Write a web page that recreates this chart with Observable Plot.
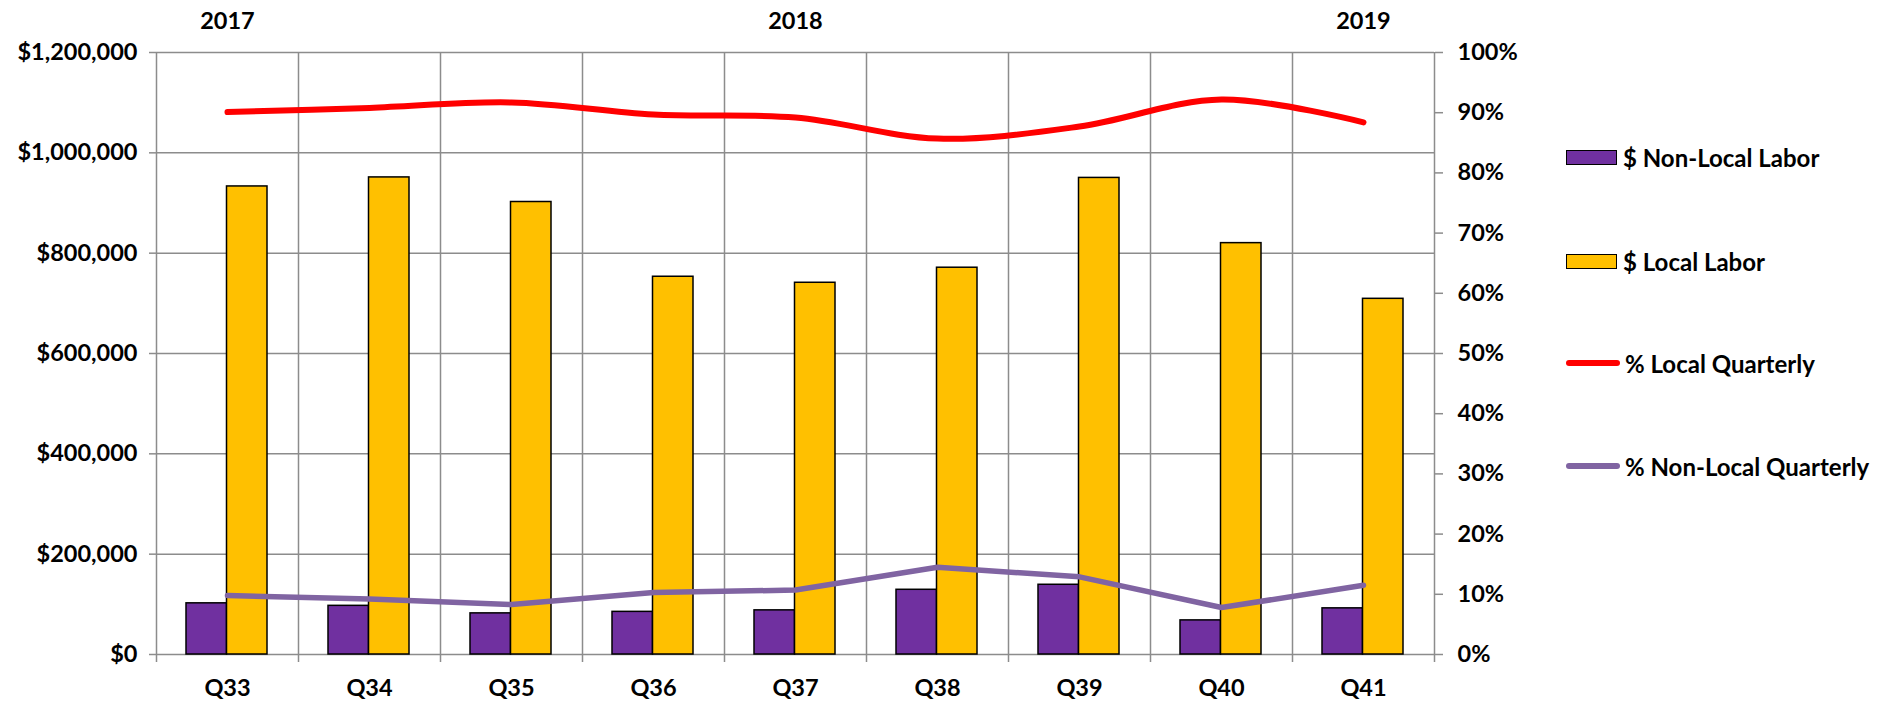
<!DOCTYPE html>
<html>
<head>
<meta charset="utf-8">
<script src="https://cdn.jsdelivr.net/npm/d3@7"></script>
<script src="https://cdn.jsdelivr.net/npm/@observablehq/plot@0.6"></script>
<style>
  html, body { margin: 0; padding: 0; background: #fff; }
  #wrap { position: relative; width: 1879px; height: 704px; font-family: Lato, "Open Sans", sans-serif; font-weight: 700; }
  #wrap > svg { position: absolute; left: 0; top: 0; }
  .leg { position: absolute; left: 1566px; height: 28px; display: flex; align-items: center; font-size: 24px; color: #000; white-space: nowrap; }
  .sw { width: 51px; height: 15px; border: 1.5px solid #000; margin-right: 6px; box-sizing: border-box; }
  .ln { width: 54px; border-radius: 3px; margin-right: 5px; }
</style>
</head>
<body>
<div id="wrap"></div>
<script>
// ---- data ----
const quarters = ["Q33", "Q34", "Q35", "Q36", "Q37", "Q38", "Q39", "Q40", "Q41"];
const nonLocalLabor = [102000, 97000, 82000, 85000, 88000, 129000, 139000, 68000, 92000];
const localLabor = [933000, 951000, 902000, 753000, 741000, 771000, 950000, 820000, 709000];
const pctLocal = [0.901, 0.908, 0.917, 0.897, 0.892, 0.857, 0.877, 0.922, 0.884];
const pctNonLocal = [0.098, 0.092, 0.083, 0.103, 0.107, 0.145, 0.129, 0.078, 0.115];
const yearLabels = ["2017", "2018", "2019"];
const yearAt = ["Q33", "Q37", "Q41"];
const dollarTicks = [0, 200000, 400000, 600000, 800000, 1000000, 1200000];
const pctTicks = [0, 0.1, 0.2, 0.3, 0.4, 0.5, 0.6, 0.7, 0.8, 0.9, 1.0];
const seriesNames = ["$ Non-Local Labor", "$ Local Labor", "% Local Quarterly", "% Non-Local Quarterly"];
const seriesColors = ["#7030A0", "#FFC000", "#FF0000", "#8064A2"];

const table = quarters.map((q, i) => ({
  q, nonLocal: nonLocalLabor[i], local: localLabor[i], pL: pctLocal[i], pN: pctNonLocal[i]
}));
const years = yearLabels.map((t, i) => ({ t, q: yearAt[i] }));

const W = 1879, H = 704;
const mL = 156, mR = 445, mT = 52, mB = 50;
const step = (W - mL - mR) / quarters.length;
const grid = "#8c8c8c";
const font = { fontFamily: "Lato, 'Open Sans', sans-serif", fontWeight: 700, fontSize: "23.5px", color: "#000", background: "transparent", overflow: "visible" };
const base = {
  width: W, height: H, marginLeft: mL, marginRight: mR, marginTop: mT, marginBottom: mB,
  x: { domain: quarters, paddingInner: 0, paddingOuter: 0 },
  style: font
};

const fmtDollar = d => "$" + d3.format(",")(d);

const p1 = Plot.plot({
  ...base,
  y: { domain: [0, 1200000] },
  marks: [
    Plot.ruleY(dollarTicks, { stroke: grid, strokeWidth: 1.5 }),
    Plot.ruleX(quarters, { x: d => d, dx: -step / 2, stroke: grid, strokeWidth: 1.5, insetBottom: -8 }),
    Plot.ruleX([quarters[quarters.length - 1]], { x: d => d, dx: step / 2, stroke: grid, strokeWidth: 1.5, insetBottom: -8 }),
    Plot.barY(table, { x: "q", y: "nonLocal", fill: seriesColors[0], stroke: "#000", strokeWidth: 1.5, insetLeft: 30, insetRight: step - 70.5 }),
    Plot.barY(table, { x: "q", y: "local", fill: seriesColors[1], stroke: "#000", strokeWidth: 1.5, insetLeft: 70.5, insetRight: step - 111 }),
    Plot.axisY({ ticks: dollarTicks, tickSize: 7, tickPadding: 12, tickFormat: fmtDollar, stroke: grid, strokeWidth: 1.5, fill: "#000", label: null }),
    Plot.axisX({ tickSize: 0, tickPadding: 25, fill: "#000", label: null }),
    Plot.text(years, { x: "q", y: () => 1200000, text: "t", dy: -31, fill: "#000" })
  ]
});

const p2 = Plot.plot({
  ...base,
  y: { domain: [0, 1] },
  marks: [
    Plot.lineY(table, { x: "q", y: "pL", stroke: seriesColors[2], strokeWidth: 6, curve: "catmull-rom", strokeLinecap: "round" }),
    Plot.lineY(table, { x: "q", y: "pN", stroke: seriesColors[3], strokeWidth: 5.5, strokeLinecap: "round" }),
    Plot.axisY({ anchor: "right", ticks: pctTicks, tickSize: 8, tickPadding: 15, tickFormat: d3.format(".0%"), stroke: grid, strokeWidth: 1.5, fill: "#000", label: null }),
    Plot.axisX({ ticks: [], label: null })
  ]
});

const wrap = document.getElementById("wrap");
wrap.appendChild(p1);
wrap.appendChild(p2);

// legend
const legY = [157, 261, 363, 466];
seriesNames.forEach((name, i) => {
  const item = document.createElement("div");
  item.className = "leg";
  item.style.top = (legY[i] - 14) + "px";
  const sw = document.createElement("div");
  if (i < 2) {
    sw.className = "sw";
    sw.style.background = seriesColors[i];
  } else {
    sw.className = "ln";
    sw.style.height = (i === 2 ? 6 : 5.5) + "px";
    sw.style.background = seriesColors[i];
  }
  const tx = document.createElement("span");
  tx.textContent = name;
  item.appendChild(sw);
  item.appendChild(tx);
  wrap.appendChild(item);
});
</script>
</body>
</html>
